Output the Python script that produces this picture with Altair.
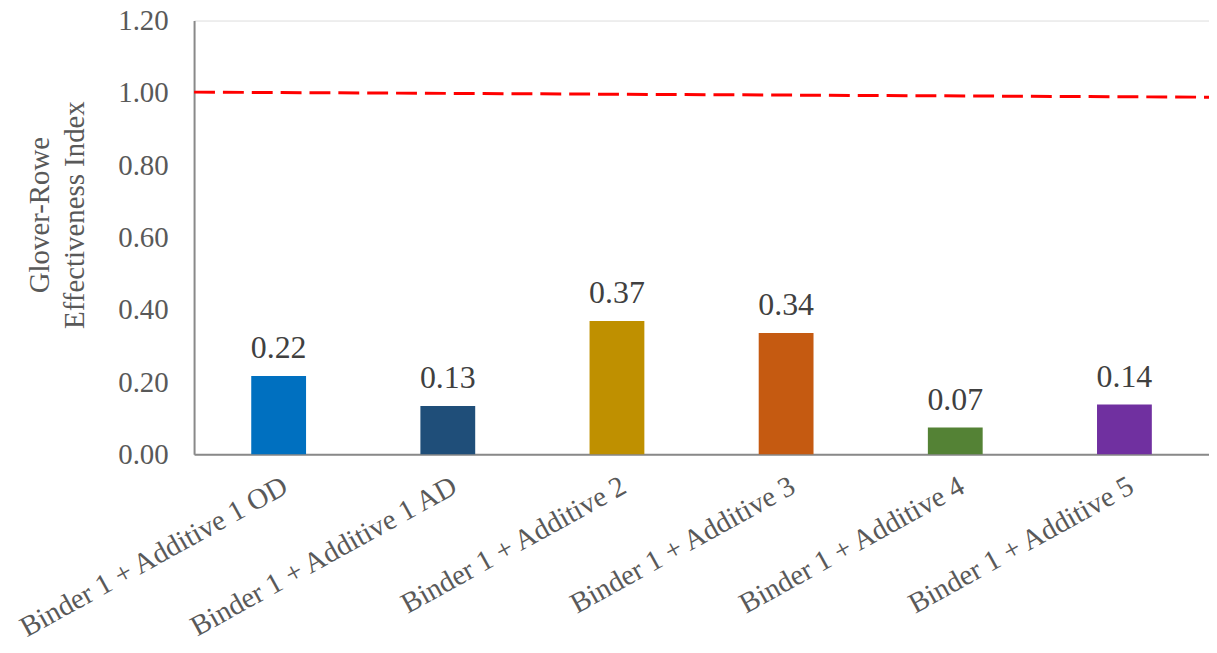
import altair as alt
import pandas as pd

categories = [
    "Binder 1 + Additive 1 OD",
    "Binder 1 + Additive 1 AD",
    "Binder 1 + Additive 2",
    "Binder 1 + Additive 3",
    "Binder 1 + Additive 4",
    "Binder 1 + Additive 5",
]
values = [0.217, 0.134, 0.369, 0.336, 0.074, 0.138]
colors = ["#0070C0", "#1F4E79", "#BF9000", "#C55A11", "#548235", "#7030A0"]
ref_start = 1.002
ref_end = 0.988
y_ticks = [0.0, 0.2, 0.4, 0.6, 0.8, 1.0, 1.2]

df = pd.DataFrame({"cat": categories, "val": values, "color": colors})

W = 1020
H = 436
FONT = "Liberation Serif"

x = alt.X("cat:N", sort=categories, title=None,
          scale=alt.Scale(paddingInner=0.676, paddingOuter=0.338),
          axis=alt.Axis(labelAngle=-29, labelAlign="right", labelBaseline="top",
                        labelFont=FONT, labelFontSize=29, labelColor="#595959",
                        labelOffset=0, labelPadding=17, ticks=False,
                        domainColor="#898989", domainWidth=2, labelLimit=400))
y = alt.Y("val:Q", title=["Glover-Rowe", "Effectiveness Index"],
          scale=alt.Scale(domain=[0, 1.2], nice=False),
          axis=alt.Axis(values=y_ticks, format=".2f", grid=False, ticks=False,
                        labelFont=FONT, labelFontSize=29, labelColor="#595959",
                        labelPadding=26, domainColor="#898989", domainWidth=2,
                        titleFont=FONT, titleFontSize=29, titleColor="#595959",
                        titleFontWeight="normal", titlePadding=28, titleLineHeight=36,
                        titleY=195))

bars = alt.Chart(df).mark_bar().encode(
    x=x, y=y, color=alt.Color("color:N", scale=None)
)
labels = alt.Chart(df).mark_text(
    font=FONT, fontSize=32, color="#404040", baseline="alphabetic", dy=-18
).encode(x=alt.X("cat:N", sort=categories), y="val:Q", text=alt.Text("val:Q", format=".2f"))

ref = alt.Chart(pd.DataFrame({"a": [ref_start], "b": [ref_end]})).mark_rule(
    color="#FF0000", strokeWidth=3, strokeDash=[21, 8]
).encode(x=alt.value(0), x2=alt.value(W), y="a:Q", y2="b:Q")

chart = alt.layer(bars, labels, ref).properties(
    width=W, height=H,
    autosize=alt.AutoSizeParams(type="none"),
    padding={"left": 187, "top": 11, "right": 0, "bottom": 194},
).configure_view(stroke="#898989", strokeWidth=2).configure(background="white")

chart.save("out.html", embed_options={"renderer": "svg", "actions": False})
